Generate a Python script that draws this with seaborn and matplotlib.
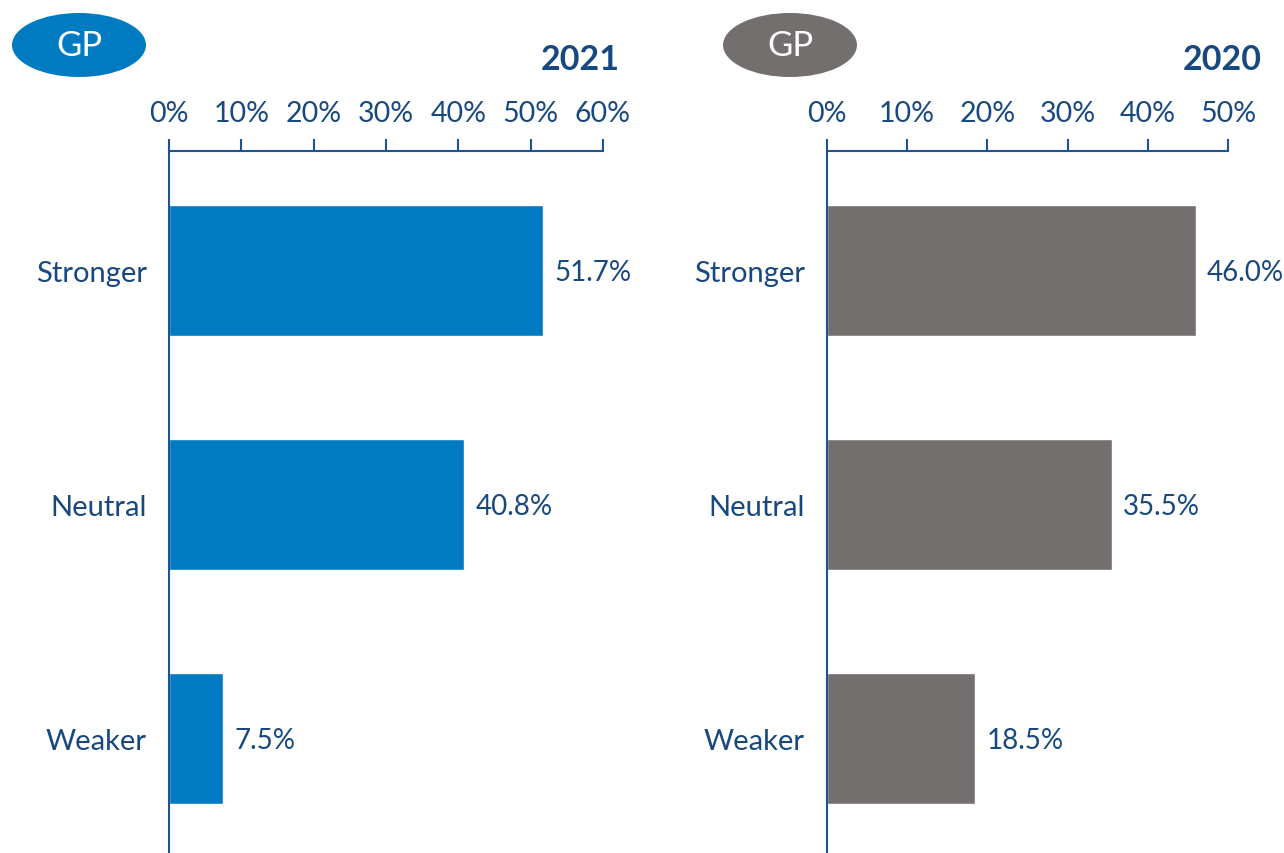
import matplotlib
matplotlib.use("Agg")
import matplotlib.pyplot as plt
import seaborn as sns
import pandas as pd
from matplotlib.patches import Ellipse
from matplotlib.ticker import FuncFormatter

categories = ["Stronger", "Neutral", "Weaker"]
values_2021 = [51.7, 40.8, 7.5]
values_2020 = [46.0, 35.5, 18.5]
ticks_2021 = [0, 10, 20, 30, 40, 50, 60]
ticks_2020 = [0, 10, 20, 30, 40, 50]

TEXT = "#17487f"
AXC = "#1d5593"
BLUE = "#007bc2"
GREY = "#736f6e"

sns.set_theme(style="white")
plt.rcParams["font.family"] = ["Lato", "DejaVu Sans"]

fig = plt.figure(figsize=(12.84, 8.54), dpi=100)
W, H = 1284, 854

def panel(left_px, right_px, values, ticks, color, year, year_right_px, ell_cx):
    ax = fig.add_axes([left_px / W, 0, (right_px - left_px) / W, 1 - 152 / H])
    df = pd.DataFrame({"cat": categories, "val": values})
    sns.barplot(data=df, x="val", y="cat", ax=ax, color=color, width=0.56,
                saturation=1, orient="h")
    ax.set_xlim(ticks[0], ticks[-1])
    ax.set_ylim(2.49, -0.51)
    ax.set_xticks(ticks)
    ax.xaxis.set_major_formatter(FuncFormatter(lambda v, p: f"{int(v)}%"))
    ax.xaxis.tick_top()
    ax.tick_params(axis="x", direction="out", length=9, width=1.5, color=AXC,
                   labelsize=20.5, labelcolor=TEXT, pad=9)
    ax.tick_params(axis="y", length=0, labelsize=21, labelcolor=TEXT, pad=16)
    for s in ["right", "bottom"]:
        ax.spines[s].set_visible(False)
    for s in ["left", "top"]:
        ax.spines[s].set_color(AXC)
        ax.spines[s].set_linewidth(1.5)
    ax.set_xlabel("")
    ax.set_ylabel("")
    for i, v in enumerate(values):
        ax.annotate(f"{v:.1f}%", xy=(v, i), xytext=(8, -1), textcoords="offset points",
                    va="center", ha="left", fontsize=20, color=TEXT)
    # year title
    fig.text(year_right_px / W, 1 - 60 / H, year, ha="right", va="center",
             fontsize=24.5, fontweight="bold", color=TEXT)
    # GP ellipse
    e = Ellipse((ell_cx / W, 1 - 46 / H), 134 / W, 64 / H, transform=fig.transFigure,
                facecolor=color, edgecolor="none")
    fig.add_artist(e)
    fig.text(ell_cx / W, 1 - 46 / H, "GP", ha="center", va="center",
             fontsize=25, color="white")
    return ax

panel(169, 603, values_2021, ticks_2021, BLUE, "2021", 620, 79)
panel(827, 1228, values_2020, ticks_2020, GREY, "2020", 1262, 790)

fig.savefig("out.png", dpi=100)
